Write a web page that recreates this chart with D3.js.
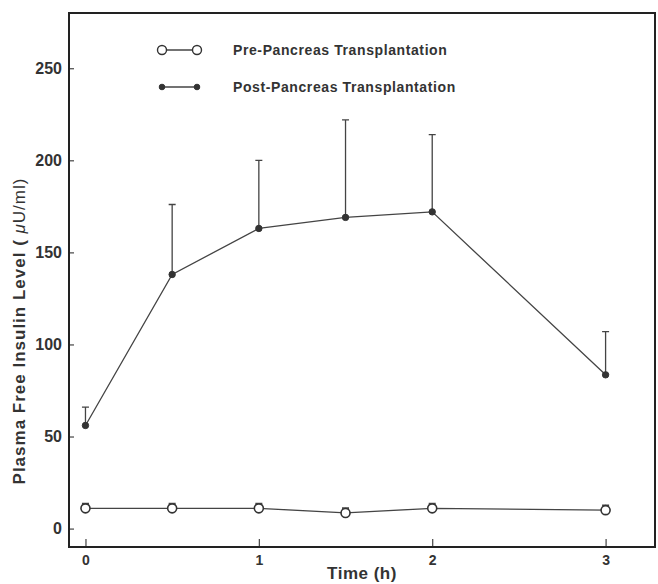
<!DOCTYPE html>
<html>
<head>
<meta charset="utf-8">
<script src="https://cdn.jsdelivr.net/npm/d3@7"></script>
<style>
  body { margin: 0; background: #fff; }
  svg { display: block; font-family: "Liberation Sans", Arial, sans-serif; font-weight: bold; }
</style>
</head>
<body>
<svg width="658" height="584"></svg>
<script>
  // time points (h)
  const times = [0, 0.5, 1, 1.5, 2, 3];
  // pre-transplant mean and error (uU/ml)
  const preMean = [11, 11, 11, 8.5, 11, 10];
  const preErr = [2.5, 2.5, 2.5, 2.5, 2.5, 2.5];
  // post-transplant mean and error
  const postMean = [56, 138, 163, 169, 172, 83.5];
  const postErr = [10, 38, 37, 53, 42, 23.5];

  const xTicks = [0, 1, 2, 3];
  const yTicks = [0, 50, 100, 150, 200, 250];

  const seriesNames = ['Pre-Pancreas Transplantation', 'Post-Pancreas Transplantation'];

  const svg = d3.select('svg');
  const ink = '#333';
  const lineInk = '#444';
  const fontFam = '"Liberation Sans", Arial, sans-serif';

  const margin = { top: 13, right: 3, bottom: 37, left: 69 };
  const width = +svg.attr('width');
  const height = +svg.attr('height');
  const innerWidth = width - margin.left - margin.right;
  const innerHeight = height - margin.top - margin.bottom;

  const g = svg.append('g')
    .attr('transform', `translate(${margin.left},${margin.top})`);

  const xScale = d3.scaleLinear()
    .domain([-0.095, 3.285])
    .range([0, innerWidth]);

  const yScale = d3.scaleLinear()
    .domain([-10, 280])
    .range([innerHeight, 0]);

  // axes, ticks point inward
  const yAxisG = g.append('g')
    .call(d3.axisLeft(yScale).tickValues(yTicks).tickFormat(d3.format('d'))
      .tickSizeInner(-5).tickSizeOuter(0).tickPadding(7));
  yAxisG.select('.domain').remove();
  yAxisG.selectAll('line').attr('stroke', lineInk).attr('stroke-width', 1.2);
  yAxisG.selectAll('text')
    .attr('fill', ink)
    .attr('font-size', 16)
    .attr('font-family', fontFam)
    .attr('font-weight', 'bold');

  const xAxisG = g.append('g')
    .attr('transform', `translate(0,${innerHeight})`)
    .call(d3.axisBottom(xScale).tickValues(xTicks).tickFormat(d3.format('d'))
      .tickSizeInner(-8).tickSizeOuter(0).tickPadding(8));
  xAxisG.select('.domain').remove();
  xAxisG.selectAll('line').attr('stroke', lineInk).attr('stroke-width', 1.2);
  xAxisG.selectAll('text')
    .attr('fill', ink)
    .attr('font-size', 14)
    .attr('font-family', fontFam)
    .attr('font-weight', 'bold');

  // frame
  g.append('rect')
    .attr('width', innerWidth)
    .attr('height', innerHeight)
    .attr('fill', 'none')
    .attr('stroke', '#222')
    .attr('stroke-width', 2);

  const makeRows = (mean, err) => times.map((t, i) => ({ t: t, v: mean[i], e: err[i] }));
  const pre = makeRows(preMean, preErr);
  const post = makeRows(postMean, postErr);

  const line = d3.line().x(d => xScale(d.t)).y(d => yScale(d.v));

  const drawSeries = (rows, open) => {
    const sg = g.append('g');
    // upward error bars with cap
    sg.selectAll('.err').data(rows).enter()
      .append('path')
      .attr('d', d => {
        const x = xScale(d.t), y0 = yScale(d.v), y1 = yScale(d.v + d.e);
        return `M${x},${y0}V${y1}M${x - 3.5},${y1}H${x + 3.5}`;
      })
      .attr('stroke', lineInk)
      .attr('stroke-width', open ? 2 : 1.3)
      .attr('fill', 'none');
    sg.append('path')
      .attr('d', line(rows))
      .attr('fill', 'none')
      .attr('stroke', lineInk)
      .attr('stroke-width', 1.3);
    sg.selectAll('circle').data(rows).enter()
      .append('circle')
      .attr('cx', d => xScale(d.t))
      .attr('cy', d => yScale(d.v))
      .attr('r', open ? 4.5 : 3.2)
      .attr('fill', open ? '#fff' : '#333')
      .attr('stroke', '#333')
      .attr('stroke-width', open ? 1.6 : 1);
  };

  drawSeries(pre, true);
  drawSeries(post, false);

  // legend
  const legendG = g.append('g').attr('transform', 'translate(93,37)');
  seriesNames.forEach((name, i) => {
    const row = legendG.append('g').attr('transform', `translate(0,${i * 37})`);
    const open = i === 0;
    row.append('line')
      .attr('x1', 0).attr('x2', 35)
      .attr('stroke', lineInk).attr('stroke-width', 1.3);
    [0, 35].forEach(cx => {
      row.append('circle')
        .attr('cx', cx).attr('cy', 0)
        .attr('r', open ? 4.5 : 2.8)
        .attr('fill', open ? '#fff' : '#333')
        .attr('stroke', '#333')
        .attr('stroke-width', open ? 1.4 : 1);
    });
    row.append('text')
      .attr('x', 71)
      .attr('y', 5)
      .attr('fill', ink)
      .attr('font-size', 14)
      .attr('letter-spacing', 0.6)
      .text(name);
  });

  // axis titles
  svg.append('text')
    .attr('x', margin.left + innerWidth / 2)
    .attr('y', 579)
    .attr('text-anchor', 'middle')
    .attr('fill', ink)
    .attr('font-size', 17)
    .attr('letter-spacing', 0.5)
    .text('Time (h)');

  const yLabel = svg.append('text')
    .attr('transform', 'translate(25,331) rotate(-90)')
    .attr('text-anchor', 'middle')
    .attr('fill', ink)
    .attr('font-size', 17)
    .attr('letter-spacing', 1);
  yLabel.append('tspan').text('Plasma Free Insulin Level ( ');
  yLabel.append('tspan').attr('font-style', 'italic').attr('font-weight', 'normal').text('μ');
  yLabel.append('tspan').attr('font-weight', 'normal').text('U/ml)');
</script>
</body>
</html>
